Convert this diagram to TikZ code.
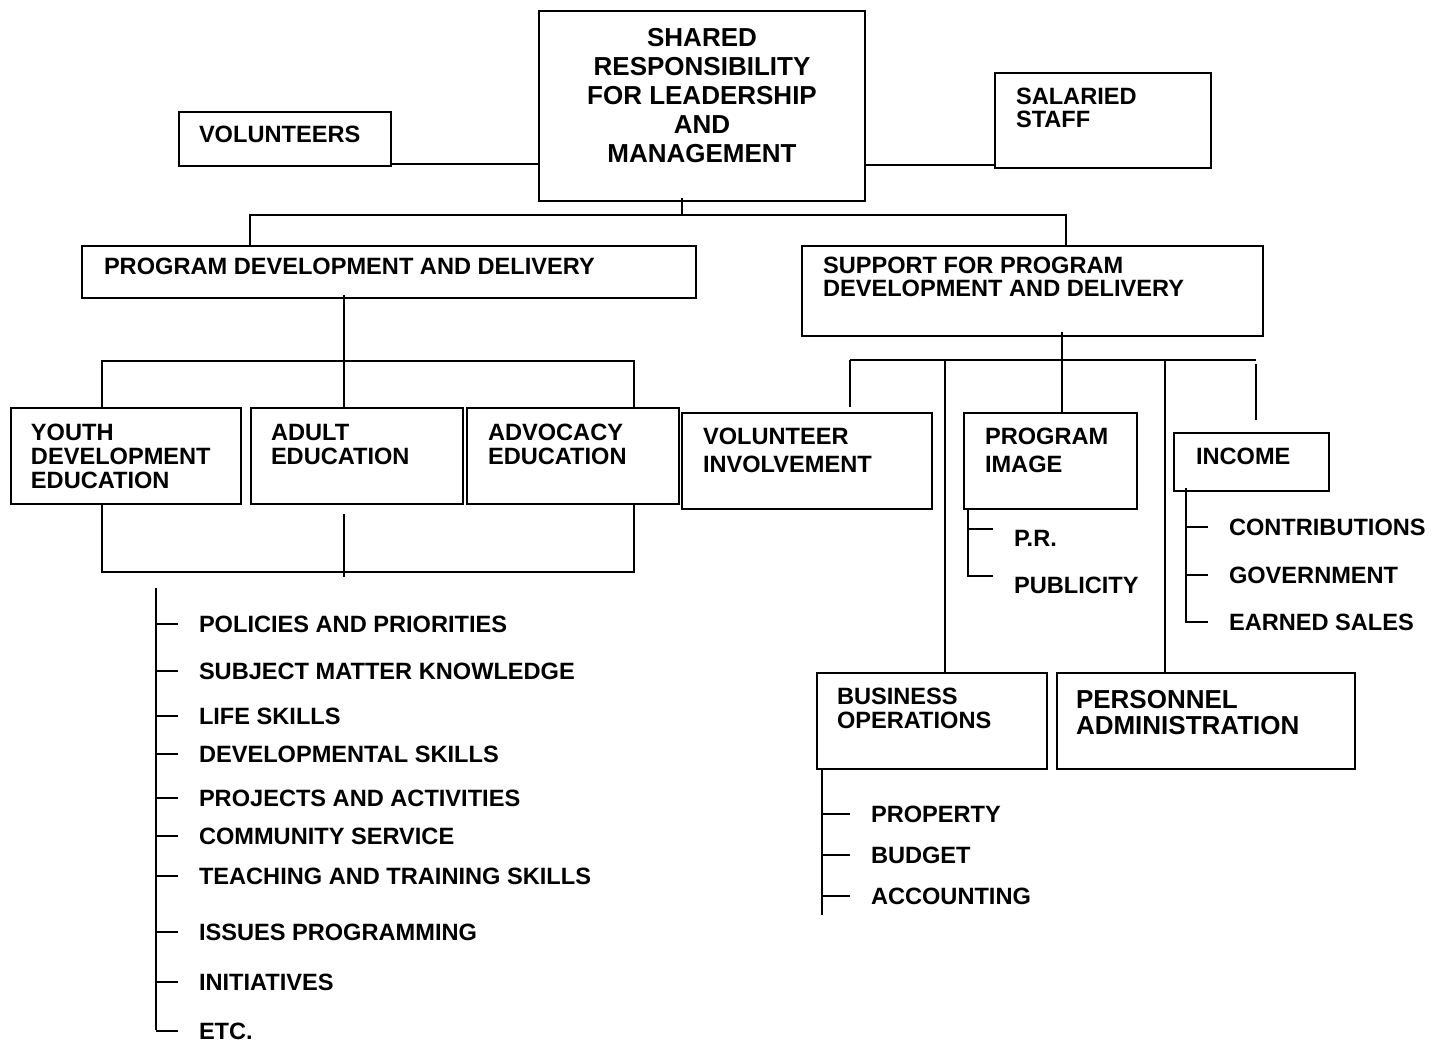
\documentclass[tikz,border=0pt]{standalone}
\usepackage{fontspec}
\setmainfont{Liberation Sans}

\newcommand\chartfont[1][12]{\fontsize{11.8}{#1}\selectfont\bfseries}
\newcommand\bigfont[1][14.5]{\fontsize{13}{#1}\selectfont\bfseries}

\begin{document}
\begin{tikzpicture}[x=0.5pt,y=-0.5pt,line width=1pt,
  every node/.style={inner sep=0},
  box/.style={draw,anchor=north west},
  txt/.style={anchor=north west,align=left,font=\chartfont},
  item/.style={anchor=west,inner xsep=10pt,font=\chartfont}]
\useasboundingbox (0,0) rectangle (1449,1042);

% boxes
\node[box,minimum width=163pt,minimum height=95pt] (shared) at (538,10) {};
\node[box,minimum width=106pt,minimum height=27pt] (vol) at (178,111) {};
\node[box,minimum width=108pt,minimum height=47.5pt] (sal) at (994,72) {};
\node[box,minimum width=307pt,minimum height=26pt] (pdd) at (81,245) {};
\node[box,minimum width=230.5pt,minimum height=45pt] (spdd) at (801,245) {};
\node[box,minimum width=115pt,minimum height=48pt] (youth) at (10,407) {};
\node[box,minimum width=106pt,minimum height=48pt] (adult) at (250,407) {};
\node[box,minimum width=106pt,minimum height=48pt] (advoc) at (466,407) {};
\node[box,minimum width=125pt,minimum height=48pt] (volinv) at (681,412) {};
\node[box,minimum width=86.5pt,minimum height=48pt] (pimg) at (963,412) {};
\node[box,minimum width=77.5pt,minimum height=29pt] (income) at (1173,432) {};
\node[box,minimum width=115pt,minimum height=48pt] (busops) at (816,672) {};
\node[box,minimum width=149pt,minimum height=48pt] (pers) at (1056,672) {};

% box texts
\node[txt,anchor=north,align=center,font={\bigfont}] (shared-t) at ([shift={(0,17)}]shared.north) {SHARED\\RESPONSIBILITY\\FOR LEADERSHIP\\AND\\MANAGEMENT};
\node[txt] (vol-t) at ([shift={(20,14.5)}]vol.north west) {VOLUNTEERS};
\node[txt,font={\chartfont[11.5]}] (sal-t) at ([shift={(21,15.5)}]sal.north west) {SALARIED\\STAFF};
\node[txt] (pdd-t) at ([shift={(22,12.5)}]pdd.north west) {PROGRAM DEVELOPMENT AND DELIVERY};
\node[txt,font={\chartfont[11.5]}] (spdd-t) at ([shift={(21,11.5)}]spdd.north west) {SUPPORT FOR PROGRAM\\DEVELOPMENT AND DELIVERY};
\node[txt] (youth-t) at ([shift={(20,16.5)}]youth.north west) {YOUTH\\DEVELOPMENT\\EDUCATION};
\node[txt] (adult-t) at ([shift={(20,16.5)}]adult.north west) {ADULT\\EDUCATION};
\node[txt] (advoc-t) at ([shift={(21,16.5)}]advoc.north west) {ADVOCACY\\EDUCATION};
\node[txt,font={\chartfont[14]}] (volinv-t) at ([shift={(21,15.5)}]volinv.north west) {VOLUNTEER\\INVOLVEMENT};
\node[txt,font={\chartfont[14]}] (pimg-t) at ([shift={(21,15.5)}]pimg.north west) {PROGRAM\\IMAGE};
\node[txt] (income-t) at ([shift={(22,15.5)}]income.north west) {INCOME};
\node[txt] (busops-t) at ([shift={(20,15.5)}]busops.north west) {BUSINESS\\OPERATIONS};
\node[txt,font={\bigfont[13]}] (pers-t) at ([shift={(19,17.7)}]pers.north west) {PERSONNEL\\ADMINISTRATION};

% top level
\coordinate (tbus) at (682,215);
\coordinate (tb-l) at (250,215);
\coordinate (tb-r) at (1066,215);
\draw ([yshift=1.5pt]vol.south east) -- ([yshift=1.5pt]vol.south east -| shared.west);
\draw ([yshift=2pt]sal.south west) -- ([yshift=2pt]sal.south west -| shared.east);
\draw ([yshift=2pt]shared.south -| tbus) -- (tbus);
\draw (pdd.north -| tb-l) -- (tb-l) -- (tb-r) -- (spdd.north -| tb-r);

% program development and delivery
\coordinate (lb) at (344,361);
\coordinate (lb-l) at (102,361);
\coordinate (lb-r) at (634,361);
\draw ([yshift=2pt]pdd.south -| lb) -- (adult.north -| lb);
\draw (youth.north -| lb-l) -- (lb-l) -- (lb-r) -- (advoc.north -| lb-r);
\coordinate (lc) at (344,577);
\coordinate (lc-l) at (102,572);
\coordinate (lc-r) at (634,572);
\draw (youth.south -| lc-l) -- (lc-l) -- (lc-r) -- (advoc.south -| lc-r);
\draw ([yshift=-4.5pt]adult.south -| lc) -- (lc);

% list of tasks
\coordinate (lt) at (156,588);
\coordinate (lt-end) at (156,1030);
\draw (lt) -- (lt-end);
\foreach \y/\txt [count=\i] in {624/POLICIES AND PRIORITIES,671/SUBJECT MATTER KNOWLEDGE,
    716/LIFE SKILLS,754/DEVELOPMENTAL SKILLS,798/PROJECTS AND ACTIVITIES,836/COMMUNITY SERVICE,
    876/TEACHING AND TRAINING SKILLS,932/ISSUES PROGRAMMING,982/INITIATIVES,1031/ETC.}{
  \node[item] (task\i) at (178,\y) {\txt};
  \draw (task\i.west -| lt) -- (task\i.west);
}

% support
\coordinate (rb) at (1062,360);
\coordinate (rb-1) at (850,360);
\coordinate (rb-2) at (945,360);
\coordinate (rb-3) at (1165,360);
\coordinate (rb-4) at (1256,360);
\draw ([yshift=2.5pt]spdd.south -| rb) -- (pimg.north -| rb);
\draw (rb-1) -- (rb-4);
\draw (rb-1) -- ([yshift=2.5pt]volinv.north -| rb-1);
\draw (rb-2) -- (busops.north -| rb-2);
\draw (rb-3) -- (pers.north -| rb-3);
\draw ([yshift=-2pt]rb-4) -- ([yshift=6pt]income.north -| rb-4);

% program image
\coordinate (pi-x) at (968,512);
\node[item] (pr) at (993,538) {P.R.};
\node[item] (pub) at (993,585) {PUBLICITY};
\draw (pimg.south -| pi-x) |- (pub.north west);
\draw (pr.north west -| pi-x) -- (pr.north west);

% income
\coordinate (in-x) at (1186,490);
\node[item] (contrib) at (1208,527) {CONTRIBUTIONS};
\node[item] (gov) at (1208,575) {GOVERNMENT};
\node[item] (earn) at (1208,622) {EARNED SALES};
\draw ([yshift=2pt]income.south -| in-x) |- (earn.west);
\draw (contrib.west -| in-x) -- (contrib.west);
\draw (gov.west -| in-x) -- (gov.west);

% business operations
\coordinate (bo-x) at (822,915);
\node[item] (prop) at (850,814) {PROPERTY};
\node[item] (budget) at (850,855) {BUDGET};
\node[item] (acct) at (850,896) {ACCOUNTING};
\draw (busops.south -| bo-x) -- (bo-x);
\draw (prop.west -| bo-x) -- (prop.west);
\draw (budget.west -| bo-x) -- (budget.west);
\draw (acct.west -| bo-x) -- (acct.west);
\end{tikzpicture}
\end{document}
